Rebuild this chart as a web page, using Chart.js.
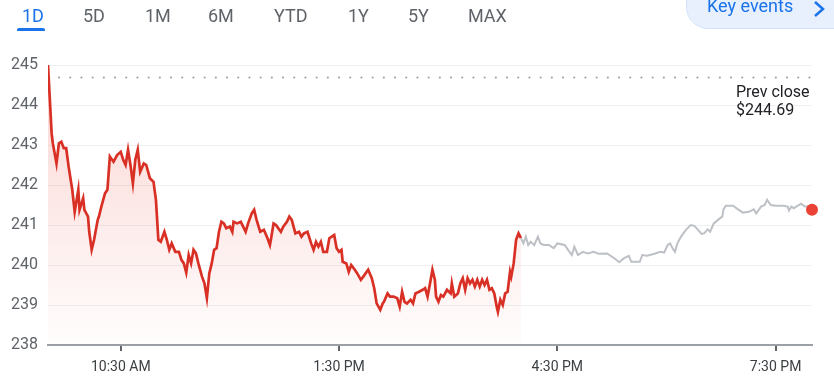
<!DOCTYPE html>
<html>
<head>
<meta charset="utf-8">
<script src="https://cdn.jsdelivr.net/npm/chart.js@4.4.1/dist/chart.umd.min.js"></script>
<style>
  body { margin: 0; background: #fff; font-family: Roboto, sans-serif; }
  #wrap { position: relative; width: 834px; height: 387px; overflow: hidden; }
  #chart { position: absolute; left: 0; top: 0; }
  .tab { position: absolute; top: 6px; font-size: 18px; line-height: 20px; color: #5f6368; }
  .tab.active { color: #1a73e8; }
  #underline { position: absolute; left: 17px; top: 28px; width: 28px; height: 3px; background: #1a73e8; border-radius: 2px 2px 0 0; }
  #keyEvents { position: absolute; left: 686px; top: -20px; width: 170px; height: 47px; background: #e8f0fe; border: 1px solid #d2e3fc; border-radius: 22px; }
  #keyText { position: absolute; left: 707px; top: -4px; font-size: 18px; line-height: 20px; color: #1a73e8; }
  #chev { position: absolute; left: 812px; top: 0px; }
</style>
</head>
<body>
<div id="wrap">
  <canvas id="chart" width="834" height="387"></canvas>
  <span class="tab active" style="left:22px">1D</span>
  <span class="tab" style="left:83px">5D</span>
  <span class="tab" style="left:145px">1M</span>
  <span class="tab" style="left:208px">6M</span>
  <span class="tab" style="left:274px">YTD</span>
  <span class="tab" style="left:348px">1Y</span>
  <span class="tab" style="left:408px">5Y</span>
  <span class="tab" style="left:468px">MAX</span>
  <div id="underline"></div>
  <div id="keyEvents"></div>
  <span id="keyText">Key events</span>
  <svg id="chev" width="14" height="18"><polyline points="3,2 11,9 3,16" fill="none" stroke="#1a73e8" stroke-width="2.5"/></svg>
</div>
<script>
  'use strict'

  // minutes after 9:30 AM
  var sessionMin = [0, 3, 4, 7, 9, 11, 13, 15, 17, 20, 22, 25, 26, 29, 30, 33, 34, 36, 38, 41, 42, 44, 47, 49, 51, 54, 57, 60, 62, 64, 66, 68, 70, 72, 74, 76, 79, 81, 84, 87, 89, 91, 93, 96, 98, 100, 102, 105, 108, 110, 112, 114, 116, 118, 120, 122, 124, 127, 129, 131, 133, 135, 137, 139, 141, 143, 145, 147, 150, 152, 153, 156, 159, 163, 165, 168, 170, 172, 175, 178, 181, 183, 184, 186, 188, 192, 194, 197, 199, 201, 204, 207, 209, 211, 214, 217, 219, 221, 223, 225, 227, 230, 232, 236, 238, 240, 242, 243, 246, 248, 250, 253, 255, 258, 260, 264, 267, 269, 271, 274, 276, 277, 280, 282, 285, 288, 290, 292, 294, 296, 299, 301, 303, 306, 309, 311, 313, 315, 317, 319, 320, 322, 324, 326, 329, 332, 333, 335, 338, 340, 342, 344, 346, 348, 350, 352, 354, 356, 358, 360, 362, 364, 366, 368, 370, 371, 373, 375, 377, 379, 381, 382, 384, 386, 388, 390]
  var sessionPrice = [245.0, 243.29, 243.04, 242.54, 243.04, 243.08, 242.92, 242.92, 242.46, 241.88, 241.33, 241.88, 241.38, 241.67, 241.38, 241.21, 240.83, 240.38, 240.63, 241.13, 241.21, 241.46, 241.79, 241.88, 242.71, 242.58, 242.75, 242.83, 242.63, 242.5, 242.88, 242.5, 242.04, 242.63, 242.88, 242.33, 242.54, 242.5, 242.17, 242.08, 241.63, 240.63, 240.58, 240.83, 240.63, 240.38, 240.54, 240.33, 240.33, 240.13, 240.04, 239.81, 240.25, 240.04, 240.38, 240.29, 240.04, 239.71, 239.54, 239.17, 239.79, 240.04, 240.38, 240.42, 240.83, 241.08, 241.04, 240.92, 240.96, 240.83, 241.08, 241.04, 241.08, 240.83, 241.04, 241.29, 241.38, 241.13, 240.83, 240.88, 240.67, 240.5, 240.67, 241.04, 241.0, 240.83, 240.96, 241.08, 241.21, 241.13, 240.79, 240.83, 240.71, 240.79, 240.83, 240.54, 240.38, 240.58, 240.46, 240.58, 240.33, 240.33, 240.67, 240.75, 240.42, 240.33, 240.38, 240.08, 240.04, 239.83, 240.0, 239.88, 239.79, 239.63, 239.71, 239.88, 239.67, 239.42, 239.04, 238.88, 239.04, 239.08, 239.29, 239.21, 239.21, 239.17, 238.96, 239.33, 239.08, 239.04, 239.13, 239.04, 239.29, 239.33, 239.38, 239.42, 239.21, 239.54, 239.88, 239.63, 239.21, 239.08, 239.25, 239.21, 239.38, 239.29, 239.54, 239.21, 239.29, 239.54, 239.67, 239.38, 239.67, 239.54, 239.63, 239.46, 239.63, 239.46, 239.63, 239.5, 239.63, 239.38, 239.42, 239.29, 238.96, 238.83, 239.13, 239.0, 239.29, 239.33, 239.83, 239.71, 240.04, 240.63, 240.79, 240.67]

  var afterMin = [390, 392, 394, 396, 398, 401, 404, 406, 409, 413, 417, 420, 426, 430, 432, 434, 437, 441, 445, 450, 454, 461, 467, 471, 475, 479, 481, 485, 488, 490, 494, 500, 505, 508, 511, 513, 515, 517, 519, 522, 526, 530, 533, 536, 539, 541, 544, 546, 549, 553, 556, 557, 559, 565, 569, 573, 578, 582, 584, 588, 591, 593, 596, 600, 606, 610, 611, 613, 615, 618, 621, 624, 626, 630]
  var afterPrice = [240.67, 240.54, 240.71, 240.5, 240.58, 240.5, 240.71, 240.54, 240.5, 240.5, 240.42, 240.54, 240.5, 240.33, 240.25, 240.46, 240.25, 240.33, 240.29, 240.33, 240.28, 240.29, 240.17, 240.07, 240.17, 240.23, 240.08, 240.08, 240.08, 240.25, 240.23, 240.28, 240.33, 240.31, 240.5, 240.54, 240.42, 240.33, 240.54, 240.71, 240.88, 241.0, 240.98, 240.88, 240.78, 240.79, 240.89, 240.83, 241.04, 241.14, 241.21, 241.39, 241.48, 241.48, 241.39, 241.31, 241.33, 241.39, 241.29, 241.46, 241.5, 241.63, 241.5, 241.48, 241.48, 241.46, 241.36, 241.46, 241.42, 241.48, 241.53, 241.46, 241.46, 241.38]

  var prevClose = 244.69
  var tickMin = [60, 240, 420, 600]
  var tickLabels = ['10:30 AM', '1:30 PM', '4:30 PM', '7:30 PM']
  var dayStart = 0
  var dayEnd = 630

  function toPoints (xs, ys) {
    return xs.map(function (x, i) { return { x: x, y: ys[i] } })
  }

  var fontFamily = 'Roboto, sans-serif'

  // text next to the dotted previous-close line
  var prevCloseLabel = {
    id: 'prevCloseLabel',
    afterDatasetsDraw: function (chart) {
      var c = chart.ctx
      var y = chart.scales.y.getPixelForValue(prevClose)
      var x = chart.chartArea.right - 76
      c.save()
      c.fillStyle = '#202124'
      c.font = '16px ' + fontFamily
      c.textAlign = 'left'
      c.textBaseline = 'alphabetic'
      c.fillText('Prev close', x, y + 20)
      c.fillText('$' + prevClose.toFixed(2), x, y + 37.5)
      c.restore()
    }
  }

  var ctx = document.getElementById('chart').getContext('2d')
  var chart = new Chart(ctx, {
    type: 'line',
    data: {
      datasets: [
        {
          data: toPoints([dayStart, dayEnd], [prevClose, prevClose]),
          borderColor: '#9aa0a6',
          borderWidth: 2,
          borderDash: [0.1, 11.1],
          borderDashOffset: 0.2,
          borderCapStyle: 'round',
          pointRadius: 0,
          fill: false
        },
        {
          data: toPoints([afterMin[afterMin.length - 1]], [afterPrice[afterPrice.length - 1]]),
          pointRadius: 6,
          pointBackgroundColor: '#ea4335',
          pointBorderWidth: 0,
          showLine: false,
          clip: false
        },
        {
          data: toPoints(afterMin, afterPrice),
          borderColor: '#bdc1c6',
          borderWidth: 2,
          pointRadius: 0,
          tension: 0,
          fill: false
        },
        {
          data: toPoints(sessionMin, sessionPrice),
          borderColor: '#d93025',
          borderWidth: 2.7,
          pointRadius: 0,
          tension: 0,
          fill: 'start',
          backgroundColor: function (context) {
            var area = context.chart.chartArea
            if (!area) return 'rgba(234,67,53,0.1)'
            var g = context.chart.ctx.createLinearGradient(0, area.top, 0, area.bottom)
            g.addColorStop(0, 'rgba(234,67,53,0.22)')
            g.addColorStop(1, 'rgba(234,67,53,0.01)')
            return g
          }
        }
      ]
    },
    options: {
      responsive: false,
      animation: false,
      devicePixelRatio: 1,
      layout: { padding: { top: 65, right: 22, left: 0, bottom: 0 } },
      plugins: { legend: { display: false }, tooltip: { enabled: false } },
      scales: {
        x: {
          type: 'linear',
          min: dayStart,
          max: dayEnd,
          afterBuildTicks: function (scale) {
            scale.ticks = tickMin.map(function (v) { return { value: v } })
          },
          afterFit: function (scale) { scale.height = 42 },
          ticks: {
            autoSkip: false,
            maxRotation: 0,
            padding: 8,
            color: '#3c4043',
            font: { family: fontFamily, size: 14 },
            callback: function (value) { return tickLabels[tickMin.indexOf(value)] }
          },
          grid: { drawOnChartArea: false, drawTicks: true, tickLength: 6, color: '#5f6368', lineWidth: 2 },
          border: { display: true, color: '#9aa0a6', width: 2 }
        },
        y: {
          min: 238,
          max: 245,
          afterFit: function (scale) { scale.width = 48 },
          ticks: {
            stepSize: 1,
            padding: 10,
            color: '#5f6368',
            font: { family: fontFamily, size: 16 }
          },
          grid: { color: '#eef0f1', drawTicks: false, lineWidth: 1 },
          border: { display: false }
        }
      }
    },
    plugins: [prevCloseLabel]
  })
</script>
</body>
</html>
